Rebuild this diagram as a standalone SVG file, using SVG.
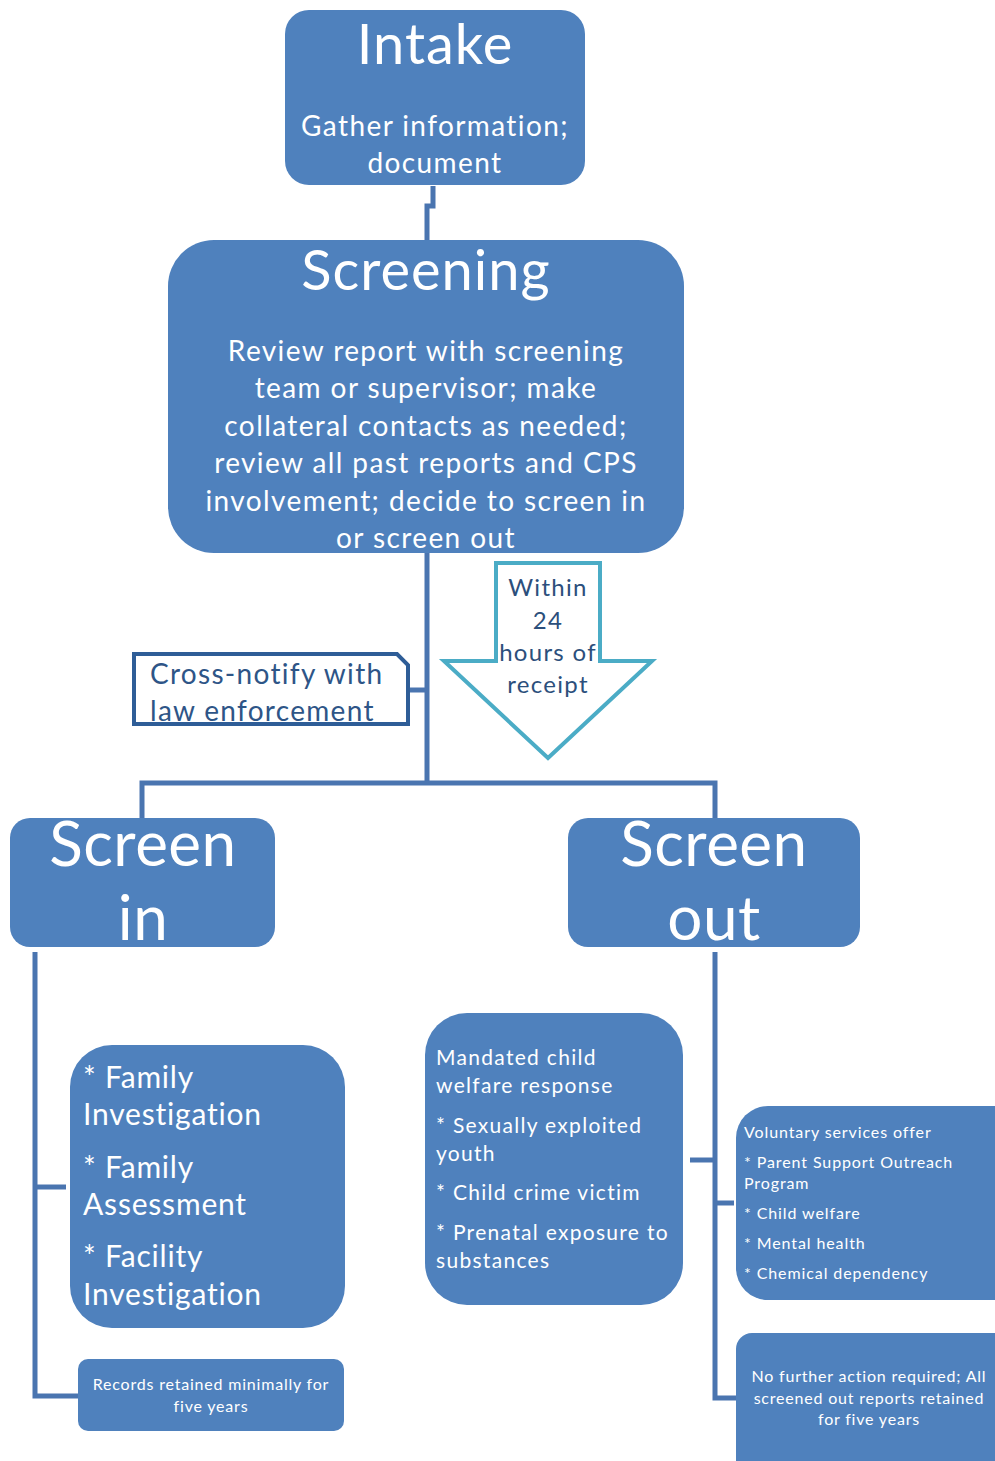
<svg xmlns="http://www.w3.org/2000/svg" width="995" height="1461" viewBox="0 0 995 1461">
<style>
.box{fill:#4f81bd}
.t{font-family:Lato,"Liberation Sans",sans-serif;fill:#ffffff}
.c{text-anchor:middle}
.conn{fill:none;stroke:#4a75b0;stroke-width:5}
</style>
<rect width="995" height="1461" fill="#ffffff"/>
<g id="connectors">
<path class="conn" d="M433,186 V206 H427 V240"/>
<path class="conn" d="M427,553 V783"/>
<path class="conn" d="M142,818 V783 H715 V818"/>
<path class="conn" d="M408,690 H427"/>
<path class="conn" d="M35,952 V1396 H78"/>
<path class="conn" d="M35,1187 H66"/>
<path class="conn" d="M715,952 V1398 H736"/>
<path class="conn" d="M690,1160 H715"/>
<path class="conn" d="M715,1203 H734"/>
</g>
<g id="intake">
<rect class="box" x="285" y="10" width="300" height="175" rx="24"/>
<text class="t c" x="435" y="64" font-size="56" letter-spacing="1">Intake</text>
<text class="t c" x="435" y="136" font-size="28" letter-spacing="1.4">Gather information;</text>
<text class="t c" x="435" y="173" font-size="28" letter-spacing="1.4">document</text>
</g>
<g id="screening">
<rect class="box" x="168" y="240" width="516" height="313" rx="46"/>
<text class="t c" x="426" y="290" font-size="56" letter-spacing="1">Screening</text>
<g font-size="28" letter-spacing="1.4">
<text class="t c" x="426" y="361">Review report with screening</text>
<text class="t c" x="426" y="398">team or supervisor; make</text>
<text class="t c" x="426" y="436">collateral contacts as needed;</text>
<text class="t c" x="426" y="473">review all past reports and CPS</text>
<text class="t c" x="426" y="511">involvement; decide to  screen in</text>
<text class="t c" x="426" y="548">or screen out</text>
</g>
</g>
<g id="arrow">
<path d="M496,563 H600 V661 H652 L548,758 L444,661 H496 Z" fill="#ffffff" stroke="#4bacc6" stroke-width="4" stroke-linejoin="miter"/>
<g font-family="Lato,'Liberation Sans',sans-serif" font-size="24" letter-spacing="1.3" fill="#2c4f7c" text-anchor="middle">
<text x="548" y="596">Within</text>
<text x="548" y="629">24</text>
<text x="548" y="661">hours of</text>
<text x="548" y="693">receipt</text>
</g>
</g>
<g id="cross-notify">
<path d="M134,654 H397 L408,665 V724 H134 Z" fill="#ffffff" stroke="#2e5d97" stroke-width="4"/>
<g font-family="Lato,'Liberation Sans',sans-serif" font-size="28" letter-spacing="1.3" fill="#2e5587">
<text x="150" y="684">Cross-notify with</text>
<text x="150" y="721">law enforcement</text>
</g>
</g>
<g id="screen-in">
<rect class="box" x="10" y="818" width="265" height="129" rx="20"/>
<text class="t c" x="143" y="866" font-size="62" letter-spacing="0.5">Screen</text>
<text class="t c" x="143" y="940" font-size="62" letter-spacing="0.5">in</text>
</g>
<g id="screen-out">
<rect class="box" x="568" y="818" width="292" height="129" rx="20"/>
<text class="t c" x="714" y="866" font-size="62" letter-spacing="0.5">Screen</text>
<text class="t c" x="714" y="940" font-size="62" letter-spacing="0.5">out</text>
</g>
<g id="family">
<rect class="box" x="70" y="1045" width="275" height="283" rx="42"/>
<g font-size="30" letter-spacing="0.8">
<text class="t" x="83" y="1088">* Family</text>
<text class="t" x="83" y="1125">Investigation</text>
<text class="t" x="83" y="1178">* Family</text>
<text class="t" x="83" y="1215">Assessment</text>
<text class="t" x="83" y="1267">* Facility</text>
<text class="t" x="83" y="1305">Investigation</text>
</g>
</g>
<g id="records">
<rect class="box" x="78" y="1359" width="266" height="72" rx="10"/>
<text class="t c" x="211" y="1390" font-size="16" letter-spacing="0.8">Records retained minimally for</text>
<text class="t c" x="211" y="1412" font-size="16" letter-spacing="0.8">five years</text>
</g>
<g id="mandated">
<rect class="box" x="425" y="1013" width="258" height="292" rx="42"/>
<g font-size="21" letter-spacing="1.3">
<text class="t" x="436" y="1065">Mandated child</text>
<text class="t" x="436" y="1093">welfare response</text>
<text class="t" x="436" y="1133">* Sexually exploited</text>
<text class="t" x="436" y="1161">youth</text>
<text class="t" x="436" y="1200">* Child crime victim</text>
<text class="t" x="436" y="1240">* Prenatal exposure to</text>
<text class="t" x="436" y="1268">substances</text>
</g>
</g>
<g id="voluntary">
<rect class="box" x="736" y="1106" width="290" height="194" rx="32"/>
<g font-size="16" letter-spacing="0.9">
<text class="t" x="744" y="1138">Voluntary services offer</text>
<text class="t" x="744" y="1168">* Parent Support Outreach</text>
<text class="t" x="744" y="1189">Program</text>
<text class="t" x="744" y="1219">* Child welfare</text>
<text class="t" x="744" y="1249">* Mental health</text>
<text class="t" x="744" y="1279">* Chemical dependency</text>
</g>
</g>
<g id="no-further">
<rect class="box" x="736" y="1333" width="290" height="150" rx="16"/>
<g font-size="16" letter-spacing="0.8">
<text class="t c" x="869" y="1382">No further action required; All</text>
<text class="t c" x="869" y="1404">screened out reports retained</text>
<text class="t c" x="869" y="1425">for five years</text>
</g>
</g>
</svg>
